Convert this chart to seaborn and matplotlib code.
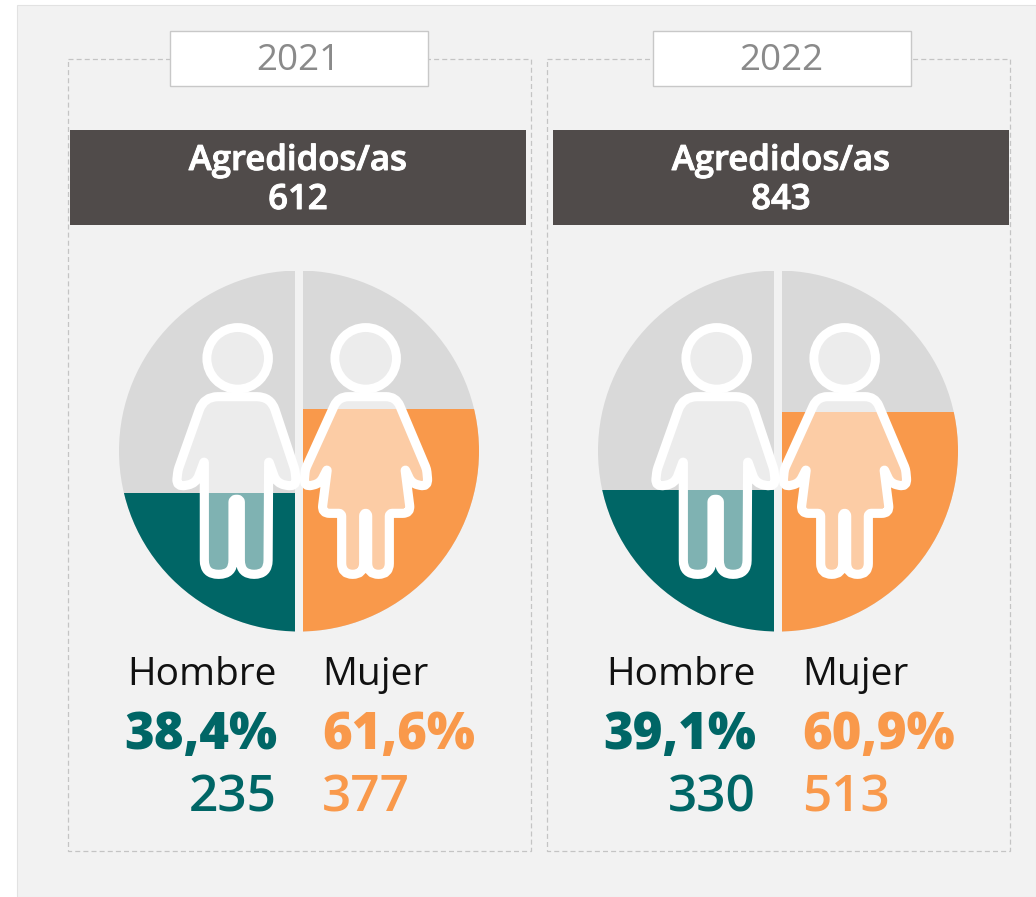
import matplotlib
matplotlib.use('Agg')
import matplotlib.pyplot as plt
from matplotlib.patches import Rectangle, Circle, PathPatch
from matplotlib.path import Path
import matplotlib.patheffects as pe
import seaborn as sns

years = ['2021', '2022']
totals = [612, 843]
genders = ['Hombre', 'Mujer']
men_pct = [38.4, 39.1]
women_pct = [61.6, 60.9]
men_n = [235, 330]
women_n = [377, 513]

TEAL = '#006666'
ORANGE = '#F9994B'
GREY = '#D9D9D9'
DARK = '#504B4A'
BG = '#F2F2F2'
FONT = 'Open Sans'

sns.set_theme(style='white')
plt.rcParams['font.family'] = [FONT, 'DejaVu Sans']

# icon outlines: x, y (3x crop pixels of the first circle), corner radius in pixels
man = [(282, 410, 14), (482, 410, 14), (555, 630, 3), (560, 682, 11), (500, 670, 8), (476, 603, 2),
       (474, 943, 14), (391, 943, 14), (391, 718, 3), (369, 718, 3), (369, 943, 14), (283, 943, 14),
       (283, 603, 2), (258, 670, 8), (198, 682, 11), (204, 630, 3)]
woman = [(685, 410, 10), (858, 410, 10), (950, 628, 3), (955, 682, 11), (905, 670, 6), (885, 627, 2),
         (902, 760, 8), (838, 760, 3), (838, 943, 11), (773, 943, 11), (773, 760, 3), (761, 760, 3),
         (761, 943, 11), (695, 943, 11), (695, 760, 3), (635, 760, 8), (652, 627, 2), (630, 670, 6),
         (581, 682, 11), (586, 628, 3)]
man_head = (383, 295)
woman_head = (767, 295)


def to_px(p, dx):
    return (110 + p[0] / 3 + dx, 260 + p[1] / 3)


def rounded(points, dx):
    pts = [to_px(p, dx) for p in points]
    n = len(pts)
    verts, codes = [], []
    for i in range(n):
        prev_p, cur, nxt = pts[i - 1], pts[i], pts[(i + 1) % n]
        r = points[i][2]
        a, b = [], []
        for other, store in ((prev_p, a), (nxt, b)):
            d = ((other[0] - cur[0]) ** 2 + (other[1] - cur[1]) ** 2) ** 0.5
            t = min(r, d / 2) / d
            store.extend([cur[0] + (other[0] - cur[0]) * t, cur[1] + (other[1] - cur[1]) * t])
        verts += [tuple(a), cur, tuple(b)]
        codes += [Path.LINETO, Path.CURVE3, Path.CURVE3]
    codes[0] = Path.MOVETO
    verts.append(verts[0])
    codes.append(Path.CLOSEPOLY)
    return Path(verts, codes)


fig = plt.figure(figsize=(10.36, 8.97), dpi=100, facecolor='white')

bg = fig.add_axes([0, 0, 1, 1], zorder=0)
bg.set_xlim(0, 1036)
bg.set_ylim(897, 0)
bg.axis('off')
bg.add_patch(Rectangle((17, 5), 1019, 892, fc=BG, ec='#E2E2E2', lw=0.8))

top = fig.add_axes([0, 0, 1, 1], zorder=2)
top.set_xlim(0, 1036)
top.set_ylim(897, 0)
top.axis('off')

frames = [68, 547]
headers = [70, 553]
year_boxes = [170, 653]
circles = [119, 598]
right_edges = [277, 756]
left_edges = [322, 802]
thick_white = [pe.withStroke(linewidth=0.7, foreground='white')]

for i in range(2):
    bg.add_patch(Rectangle((frames[i], 59), 463, 792, fc='none', ec='#C4C4C4', lw=0.9, ls=(0, (4, 2.5))))
    bg.add_patch(Rectangle((year_boxes[i], 31), 258, 55, fc='white', ec='#C8C8C8', lw=1.0))
    bg.text(year_boxes[i] + 128, 61, years[i], color='#8A8A8A', fontsize=26.5, ha='center', va='center')
    bg.add_patch(Rectangle((headers[i], 130), 456, 95, fc=DARK, ec='none'))
    cx = headers[i] + 228
    bg.text(cx, 161, 'Agredidos/as', color='white', fontsize=25, fontweight='semibold', ha='center',
            va='center', path_effects=thick_white)
    bg.text(cx, 200, str(totals[i]), color='white', fontsize=25, fontweight='semibold', ha='center',
            va='center', path_effects=thick_white)

    # half-circle fill: bars clipped by a circle
    ax = fig.add_axes([circles[i] / 1036, 1 - 631.5 / 897, 360 / 1036, 361 / 897], zorder=1)
    sns.barplot(x=genders, y=[100, 100], color=GREY, saturation=1, width=182 / 190, linewidth=0, ax=ax)
    sns.barplot(x=genders, y=[men_pct[i], women_pct[i]], hue=genders, palette=[TEAL, ORANGE],
                saturation=1, width=182 / 190, linewidth=0, legend=False, ax=ax)
    ax.set_xlim(0.5 - 180 / 190, 0.5 + 180 / 190)
    ax.set_ylim(0, 100)
    ax.axis('off')
    ax.patch.set_alpha(0)
    clip = Circle((0.5, 0.5), 0.5, transform=ax.transAxes)
    for p in ax.patches:
        p.set_clip_path(clip)

    dx = circles[i] - circles[0]
    for shape, head in ((man, man_head), (woman, woman_head)):
        path = rounded(shape, dx)
        top.add_patch(PathPatch(path, fc=(1, 1, 1, 0.5), ec='none'))
        top.add_patch(PathPatch(path, fc='none', ec='white', lw=6.6, joinstyle='round'))
        hx, hy = to_px(head, dx)
        top.add_patch(Circle((hx, hy), 30.8, fc=(1, 1, 1, 0.5), ec='white', lw=6.4))

    bg.text(right_edges[i], 675, genders[0], color='#111111', fontsize=28, ha='right', va='center')
    bg.text(left_edges[i], 675, genders[1], color='#111111', fontsize=28, ha='left', va='center')
    bg.text(right_edges[i], 735, f'{men_pct[i]:.1f}%'.replace('.', ','), color=TEAL, fontsize=36.5,
            fontweight='black', ha='right', va='center')
    bg.text(left_edges[i], 735, f'{women_pct[i]:.1f}%'.replace('.', ','), color=ORANGE, fontsize=36.5,
            fontweight='black', ha='left', va='center')
    bg.text(right_edges[i], 799, str(men_n[i]), color=TEAL, fontsize=37, fontweight='semibold', ha='right', va='center')
    bg.text(left_edges[i], 799, str(women_n[i]), color=ORANGE, fontsize=37, fontweight='semibold', ha='left', va='center')

fig.savefig('out.png', dpi=100)
